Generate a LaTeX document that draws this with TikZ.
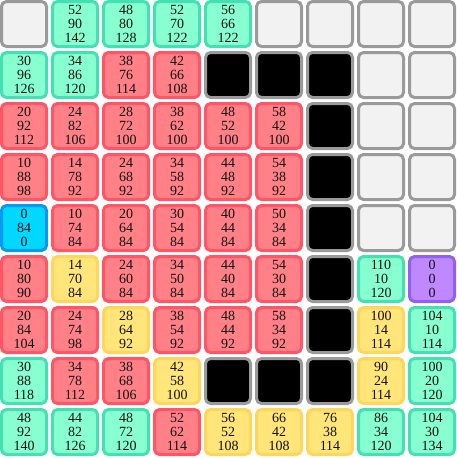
\documentclass[tikz,border=0pt]{standalone}
\usepackage{fontspec}
\setmainfont{Liberation Serif}
\definecolor{Ink}{HTML}{111111}
\definecolor{EmptyFill}{HTML}{F2F2F2}
\definecolor{EmptyEdge}{HTML}{9A9A9A}
\definecolor{OpenFill}{HTML}{88FFD0}
\definecolor{OpenEdge}{HTML}{44E0B2}
\definecolor{ClosedFill}{HTML}{FF8087}
\definecolor{ClosedEdge}{HTML}{FF5566}
\definecolor{PathFill}{HTML}{FFE57A}
\definecolor{PathEdge}{HTML}{FFD65C}
\definecolor{StartFill}{HTML}{00D8FF}
\definecolor{StartEdge}{HTML}{0A98F0}
\definecolor{GoalFill}{HTML}{C088FF}
\definecolor{GoalEdge}{HTML}{9060F0}
\begin{document}
\begin{tikzpicture}[x=1pt,y=-1pt,
  cell/.style={draw, line width=3pt, rounded corners=5pt, minimum size=45pt, inner sep=0pt, align=center, text=Ink, font=\fontsize{14}{14}\selectfont},
  emptycell/.style={cell, fill=EmptyFill, draw=EmptyEdge},
  wallcell/.style={cell, fill=black, draw=EmptyEdge},
  openset/.style={cell, fill=OpenFill, draw=OpenEdge},
  closedset/.style={cell, fill=ClosedFill, draw=ClosedEdge},
  pathcell/.style={cell, fill=PathFill, draw=PathEdge},
  startcell/.style={cell, fill=StartFill, draw=StartEdge},
  goalcell/.style={cell, fill=GoalFill, draw=GoalEdge}]
\useasboundingbox[fill=white] (0,0) rectangle (456,458);
% row by row: column / kind / g h f
\foreach \c/\k/\v in {0/emptycell/{},1/openset/{52\\90\\142},2/openset/{48\\80\\128},3/openset/{52\\70\\122},4/openset/{56\\66\\122},5/emptycell/{},6/emptycell/{},7/emptycell/{},8/emptycell/{}}
  \node[\k] (r0c\c) at (24+51*\c,24+51*0) {\v};
\foreach \c/\k/\v in {0/openset/{30\\96\\126},1/openset/{34\\86\\120},2/closedset/{38\\76\\114},3/closedset/{42\\66\\108},4/wallcell/{},5/wallcell/{},6/wallcell/{},7/emptycell/{},8/emptycell/{}}
  \node[\k] (r1c\c) at (24+51*\c,24+51*1) {\v};
\foreach \c/\k/\v in {0/closedset/{20\\92\\112},1/closedset/{24\\82\\106},2/closedset/{28\\72\\100},3/closedset/{38\\62\\100},4/closedset/{48\\52\\100},5/closedset/{58\\42\\100},6/wallcell/{},7/emptycell/{},8/emptycell/{}}
  \node[\k] (r2c\c) at (24+51*\c,24+51*2) {\v};
\foreach \c/\k/\v in {0/closedset/{10\\88\\98},1/closedset/{14\\78\\92},2/closedset/{24\\68\\92},3/closedset/{34\\58\\92},4/closedset/{44\\48\\92},5/closedset/{54\\38\\92},6/wallcell/{},7/emptycell/{},8/emptycell/{}}
  \node[\k] (r3c\c) at (24+51*\c,24+51*3) {\v};
\foreach \c/\k/\v in {0/startcell/{0\\84\\0},1/closedset/{10\\74\\84},2/closedset/{20\\64\\84},3/closedset/{30\\54\\84},4/closedset/{40\\44\\84},5/closedset/{50\\34\\84},6/wallcell/{},7/emptycell/{},8/emptycell/{}}
  \node[\k] (r4c\c) at (24+51*\c,24+51*4) {\v};
\foreach \c/\k/\v in {0/closedset/{10\\80\\90},1/pathcell/{14\\70\\84},2/closedset/{24\\60\\84},3/closedset/{34\\50\\84},4/closedset/{44\\40\\84},5/closedset/{54\\30\\84},6/wallcell/{},7/openset/{110\\10\\120},8/goalcell/{0\\0\\0}}
  \node[\k] (r5c\c) at (24+51*\c,24+51*5) {\v};
\foreach \c/\k/\v in {0/closedset/{20\\84\\104},1/closedset/{24\\74\\98},2/pathcell/{28\\64\\92},3/closedset/{38\\54\\92},4/closedset/{48\\44\\92},5/closedset/{58\\34\\92},6/wallcell/{},7/pathcell/{100\\14\\114},8/openset/{104\\10\\114}}
  \node[\k] (r6c\c) at (24+51*\c,24+51*6) {\v};
\foreach \c/\k/\v in {0/openset/{30\\88\\118},1/closedset/{34\\78\\112},2/closedset/{38\\68\\106},3/pathcell/{42\\58\\100},4/wallcell/{},5/wallcell/{},6/wallcell/{},7/pathcell/{90\\24\\114},8/openset/{100\\20\\120}}
  \node[\k] (r7c\c) at (24+51*\c,24+51*7) {\v};
\foreach \c/\k/\v in {0/openset/{48\\92\\140},1/openset/{44\\82\\126},2/openset/{48\\72\\120},3/closedset/{52\\62\\114},4/pathcell/{56\\52\\108},5/pathcell/{66\\42\\108},6/pathcell/{76\\38\\114},7/openset/{86\\34\\120},8/openset/{104\\30\\134}}
  \node[\k] (r8c\c) at (24+51*\c,24+51*8) {\v};
\end{tikzpicture}
\end{document}
